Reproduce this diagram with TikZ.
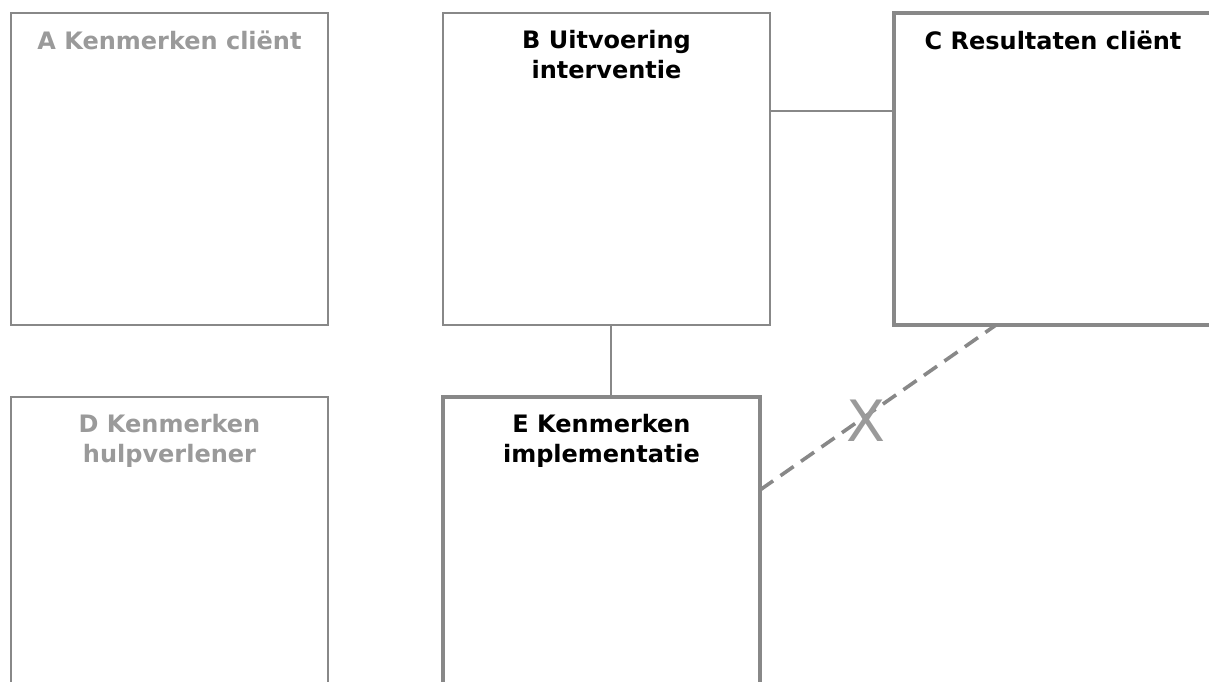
\documentclass[tikz,border=0pt]{standalone}
\usepackage{fontspec}
\setmainfont{DejaVu Sans}
\definecolor{edgegray}{HTML}{888888}
\definecolor{mutedtext}{HTML}{9A9A9A}
\begin{document}
\begin{tikzpicture}[x=1pt,y=-1pt,
  box/.style={draw=edgegray, line width=2pt, minimum width=317pt, minimum height=312pt,
              inner sep=0pt, outer sep=0pt, anchor=north west},
  focus/.style={box, line width=3.2pt},
  tall/.style={minimum height=330pt},
  title/.style={anchor=north, align=center, inner sep=0pt,
                font=\bfseries\fontsize{24}{29.5}\selectfont, yshift=-17.5pt},
  muted/.style={text=mutedtext},
  link/.style={draw=edgegray, line width=2pt},
  broken/.style={draw=edgegray, line width=3.6pt, dash pattern=on 16pt off 9pt}]
\useasboundingbox (0,0) rectangle (1209,682);
\clip (0,0) rectangle (1209,682);

% the five boxes
\node[box] (A) at (11,13) {};
\node[box, minimum width=327pt] (B) at (443,13) {};
\node[focus, minimum width=318pt] (C) at (894,13) {};
\node[box, tall] (D) at (11,397) {};
\node[focus, tall] (E) at (443,397) {};

% box titles
\node[title, muted] at (A.north) {A Kenmerken cliënt};
\node[title] at (B.north) {B Uitvoering\\interventie};
\node[title] at (C.north) {C Resultaten cliënt};
\node[title, muted] at (D.north) {D Kenmerken\\hulpverlener};
\node[title] at (E.north) {E Kenmerken\\implementatie};

% connectors
\path (B.north east) ++(0,98) coordinate (bc);
\draw[link] (bc) -- (bc -| C.west);
\path (B.south) ++(4.5,0) coordinate (be);
\draw[link] (be) -- (be |- E.north);
\path (E.north east) ++(0,93) coordinate (ec);
\path (C.south west) ++(102,0) coordinate (ce);
\draw[broken] (ec) -- node[pos=0.45, yshift=-5pt, inner sep=0pt, text=mutedtext,
  font=\fontsize{57}{57}\selectfont] {X} (ce);
\end{tikzpicture}
\end{document}
